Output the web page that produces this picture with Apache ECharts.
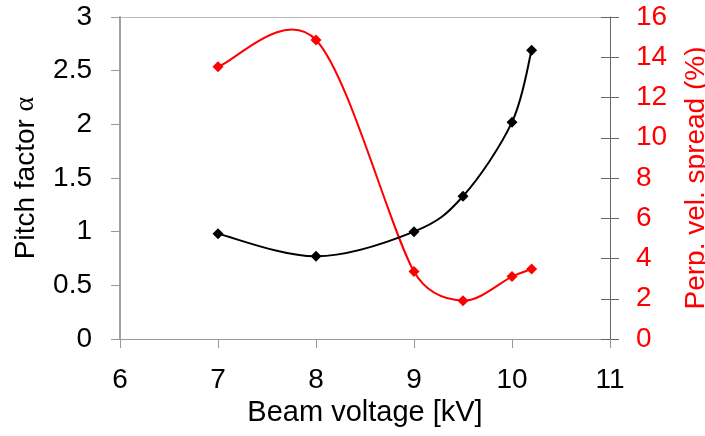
<!DOCTYPE html>
<html><head><meta charset="utf-8">
<script src="https://cdn.jsdelivr.net/npm/echarts@6/dist/echarts.min.js"></script>
<style>html,body{margin:0;padding:0;background:#fff}#c{width:705px;height:436px}</style>
</head><body><div id="c"></div>
<script>
const voltage = [7, 8, 9, 9.5, 10, 10.2];
const pitchFactor = [0.98, 0.77, 1.0, 1.33, 2.02, 2.69];
const perpSpread = [13.53, 14.86, 3.35, 1.9, 3.1, 3.48];
const xTicks = [6, 7, 8, 9, 10, 11];
const leftTicks = [0, 0.5, 1, 1.5, 2, 2.5, 3];
const rightTicks = [0, 2, 4, 6, 8, 10, 12, 14, 16];

const font = 'Liberation Sans, Arial, sans-serif';

// Smooth curve (Excel-like Catmull-Rom with arm limit) drawn through the axis scales via api.coord
function smoothCurve(xs, ys, yAxisIndex, color) {
  const n = xs.length;
  const LIMIT = 0.45;
  function arm(pPrev, p, pNext, segLen) {
    let vx = (pNext[0] - pPrev[0]) / 6, vy = (pNext[1] - pPrev[1]) / 6;
    const len = Math.hypot(vx, vy), maxLen = LIMIT * segLen;
    if (len > maxLen && len > 0) { vx *= maxLen / len; vy *= maxLen / len; }
    return [vx, vy];
  }
  return {
    type: 'custom', coordinateSystem: 'cartesian2d', yAxisIndex: yAxisIndex,
    data: xs.map((x, i) => [x, ys[i]]),
    encode: {x: 0, y: 1},
    silent: true, z: 2,
    renderItem: function (params, api) {
      const i = params.dataIndex;
      if (i >= n - 1) return null;
      const P = j => { const k = Math.max(0, Math.min(n - 1, j)); return api.coord([xs[k], ys[k]]); };
      const p0 = P(i - 1), p1 = P(i), p2 = P(i + 1), p3 = P(i + 2);
      const seg = Math.hypot(p2[0] - p1[0], p2[1] - p1[1]);
      const a1 = arm(p0, p1, p2, seg), a2 = arm(p1, p2, p3, seg);
      return {
        type: 'bezierCurve',
        shape: {
          x1: p1[0], y1: p1[1], x2: p2[0], y2: p2[1],
          cpx1: p1[0] + a1[0], cpy1: p1[1] + a1[1],
          cpx2: p2[0] - a2[0], cpy2: p2[1] - a2[1]
        },
        style: {stroke: color, lineWidth: 2, fill: 'none'}
      };
    }
  };
}

const chart = echarts.init(document.getElementById('c'), null, {renderer: 'canvas'});
chart.setOption({
  animation: false,
  backgroundColor: '#fff',
  grid: {left: 120, right: 95, top: 17, bottom: 97, containLabel: false, outerBoundsMode: 'none'},
  xAxis: {
    type: 'value', min: xTicks[0], max: xTicks[xTicks.length - 1], interval: 1,
    name: 'Beam voltage [kV]', nameLocation: 'middle', nameGap: 58,
    nameTextStyle: {fontSize: 29, color: '#000', fontFamily: font},
    axisLine: {lineStyle: {color: '#999', width: 1}},
    axisTick: {show: true, length: 9, lineStyle: {color: '#999'}},
    axisLabel: {fontSize: 28, color: '#000', fontFamily: font, margin: 27},
    splitLine: {show: false}
  },
  yAxis: [{
    type: 'value', min: leftTicks[0], max: leftTicks[leftTicks.length - 1], interval: 0.5,
    position: 'left',
    name: 'Pitch factor {a|\u03b1}', nameLocation: 'middle', nameGap: 80,
    nameTextStyle: {fontSize: 28, color: '#000', fontFamily: font,
      rich: {a: {fontSize: 28, color: '#000', fontFamily: 'Liberation Serif, DejaVu Serif, serif'}}},
    axisLine: {show: true, lineStyle: {color: '#a0a0a0', width: 2}},
    axisTick: {show: true, length: 9, lineStyle: {color: '#999'}},
    axisLabel: {fontSize: 28, color: '#000', fontFamily: font, margin: 28},
    splitLine: {show: true, lineStyle: {color: ['transparent','transparent','transparent','transparent','transparent','transparent','#bbb'], width: 1}}
  }, {
    type: 'value', min: rightTicks[0], max: rightTicks[rightTicks.length - 1], interval: 2,
    position: 'right',
    name: 'Perp. vel. spread (%)', nameLocation: 'middle', nameGap: 72,
    nameRotate: 90,
    nameTextStyle: {fontSize: 28, color: '#ff0000', fontFamily: font},
    axisLine: {show: true, lineStyle: {color: '#666', width: 1}},
    axisTick: {show: true, length: 9, lineStyle: {color: '#666'}},
    axisLabel: {fontSize: 28, color: '#ff0000', fontFamily: font, margin: 26},
    splitLine: {show: false}
  }, {
    type: 'value', min: rightTicks[0], max: rightTicks[rightTicks.length - 1], interval: 2,
    position: 'right',
    axisLine: {show: false},
    axisTick: {show: true, inside: true, length: 9, lineStyle: {color: '#666'}},
    axisLabel: {show: false},
    splitLine: {show: false}
  }],
  series: [
    smoothCurve(voltage, perpSpread, 1, '#ff0000'),
    smoothCurve(voltage, pitchFactor, 0, '#000'),
    {
      type: 'line', yAxisIndex: 0, z: 4,
      data: voltage.map((v, i) => [v, pitchFactor[i]]),
      symbol: 'diamond', symbolSize: 11,
      itemStyle: {color: '#000'},
      lineStyle: {opacity: 0}
    }, {
      type: 'line', yAxisIndex: 1, z: 4,
      data: voltage.map((v, i) => [v, perpSpread[i]]),
      symbol: 'diamond', symbolSize: 11,
      itemStyle: {color: '#ff0000'},
      lineStyle: {opacity: 0}
    }
  ]
});
</script></body></html>
